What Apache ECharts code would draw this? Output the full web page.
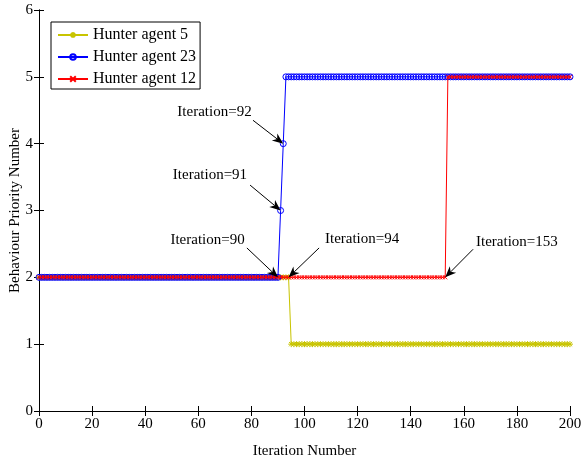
<!DOCTYPE html>
<html>
<head>
<meta charset="utf-8">
<script src="https://cdn.jsdelivr.net/npm/echarts@6/dist/echarts.min.js"></script>
<style>
  html, body { margin: 0; padding: 0; background: #fff; }
  #chart { width: 582px; height: 458px; }
</style>
</head>
<body>
<div id="chart"></div>
<script>
// Behaviour priority of three hunter agents over 200 iterations (index = iteration)
const seriesNames = ['Hunter agent 5', 'Hunter agent 23', 'Hunter agent 12'];

const agent5 = [
  2,2,2,2,2,2,2,2,2,2,2,2,2,2,2,2,2,2,2,2,
  2,2,2,2,2,2,2,2,2,2,2,2,2,2,2,2,2,2,2,2,
  2,2,2,2,2,2,2,2,2,2,2,2,2,2,2,2,2,2,2,2,
  2,2,2,2,2,2,2,2,2,2,2,2,2,2,2,2,2,2,2,2,
  2,2,2,2,2,2,2,2,2,2,2,2,2,2,2,1,1,1,1,1,
  1,1,1,1,1,1,1,1,1,1,1,1,1,1,1,1,1,1,1,1,
  1,1,1,1,1,1,1,1,1,1,1,1,1,1,1,1,1,1,1,1,
  1,1,1,1,1,1,1,1,1,1,1,1,1,1,1,1,1,1,1,1,
  1,1,1,1,1,1,1,1,1,1,1,1,1,1,1,1,1,1,1,1,
  1,1,1,1,1,1,1,1,1,1,1,1,1,1,1,1,1,1,1,1,
  1
];

const agent23 = [
  2,2,2,2,2,2,2,2,2,2,2,2,2,2,2,2,2,2,2,2,
  2,2,2,2,2,2,2,2,2,2,2,2,2,2,2,2,2,2,2,2,
  2,2,2,2,2,2,2,2,2,2,2,2,2,2,2,2,2,2,2,2,
  2,2,2,2,2,2,2,2,2,2,2,2,2,2,2,2,2,2,2,2,
  2,2,2,2,2,2,2,2,2,2,2,3,4,5,5,5,5,5,5,5,
  5,5,5,5,5,5,5,5,5,5,5,5,5,5,5,5,5,5,5,5,
  5,5,5,5,5,5,5,5,5,5,5,5,5,5,5,5,5,5,5,5,
  5,5,5,5,5,5,5,5,5,5,5,5,5,5,5,5,5,5,5,5,
  5,5,5,5,5,5,5,5,5,5,5,5,5,5,5,5,5,5,5,5,
  5,5,5,5,5,5,5,5,5,5,5,5,5,5,5,5,5,5,5,5,
  5
];

const agent12 = [
  2,2,2,2,2,2,2,2,2,2,2,2,2,2,2,2,2,2,2,2,
  2,2,2,2,2,2,2,2,2,2,2,2,2,2,2,2,2,2,2,2,
  2,2,2,2,2,2,2,2,2,2,2,2,2,2,2,2,2,2,2,2,
  2,2,2,2,2,2,2,2,2,2,2,2,2,2,2,2,2,2,2,2,
  2,2,2,2,2,2,2,2,2,2,2,2,2,2,2,2,2,2,2,2,
  2,2,2,2,2,2,2,2,2,2,2,2,2,2,2,2,2,2,2,2,
  2,2,2,2,2,2,2,2,2,2,2,2,2,2,2,2,2,2,2,2,
  2,2,2,2,2,2,2,2,2,2,2,2,2,2,5,5,5,5,5,5,
  5,5,5,5,5,5,5,5,5,5,5,5,5,5,5,5,5,5,5,5,
  5,5,5,5,5,5,5,5,5,5,5,5,5,5,5,5,5,5,5,5,
  5
];

// Annotated switching points (label, target point, text anchor, arrow tail) in data units
const annLabels  = ['Iteration=90', 'Iteration=91', 'Iteration=92', 'Iteration=94', 'Iteration=153'];
const annTargetX = [90, 91, 92, 94, 153];
const annTargetY = [2, 3, 4, 2, 2];
const annTextX   = [63.5, 64.4, 66.1, 121.7, 180.0];
const annTextY   = [2.56, 3.53, 4.47, 2.57, 2.53];
const annTailX   = [78.3, 79.5, 80.6, 105.5, 163.5];
const annTailY   = [2.44, 3.38, 4.35, 2.44, 2.42];

const FONT = '"Liberation Serif", "Times New Roman", serif';
const C_YEL = '#c8c400', C_BLUE = '#0000ff', C_RED = '#ff0000';

const asteriskPath = 'path://M0,-5L0,5M-5,0L5,0M-3.6,-3.6L3.6,3.6M-3.6,3.6L3.6,-3.6';
const crossPath = 'path://M-5,-5L5,5M-5,5L5,-5';

const toXY = arr => arr.map((v, i) => [i, v]);

const chart = echarts.init(document.getElementById('chart'), null, { renderer: 'canvas' });

function axisCommon(showLabel) {
  return {
    axisLine: { show: true, lineStyle: { color: '#000', width: 1 } },
    axisTick: { show: true, inside: true, length: 5, lineStyle: { color: '#000' } },
    splitLine: { show: false },
    axisLabel: { show: showLabel, color: '#000', fontFamily: FONT, fontSize: 15, margin: 6 }
  };
}

const option = {
  animation: false,
  backgroundColor: '#fff',
  grid: { left: 39, right: 12, top: 10, bottom: 47, containLabel: false, outerBoundsMode: 'none' },
  xAxis: [
    Object.assign(axisCommon(true), {
      type: 'value', min: 0, max: 200, interval: 20, position: 'bottom',
      name: 'Iteration Number', nameLocation: 'middle', nameGap: 33, nameMoveOverlap: false,
      nameTextStyle: { color: '#000', fontFamily: FONT, fontSize: 15 }
    }),
    Object.assign(axisCommon(false), {
      type: 'value', min: 0, max: 200, interval: 20, position: 'top'
    })
  ],
  yAxis: [
    Object.assign(axisCommon(true), {
      type: 'value', min: 0, max: 6, interval: 1, position: 'left',
      name: 'Behaviour Priority Number', nameLocation: 'middle', nameGap: 16, nameMoveOverlap: false,
      nameTextStyle: { color: '#000', fontFamily: FONT, fontSize: 15 }
    }),
    Object.assign(axisCommon(false), {
      type: 'value', min: 0, max: 6, interval: 1, position: 'right'
    })
  ],
  legend: {
    data: seriesNames,
    orient: 'vertical',
    left: 51, top: 22,
    backgroundColor: '#fff',
    borderColor: '#000', borderWidth: 1, borderRadius: 0,
    padding: [5, 4, 2, 6],
    itemWidth: 30, itemHeight: 7, itemGap: 6,
    textStyle: { color: '#000', fontFamily: FONT, fontSize: 16, lineHeight: 15 }
  },
  series: [
    {
      name: seriesNames[0], type: 'line', data: toXY(agent5),
      symbol: asteriskPath, symbolSize: 6, showAllSymbol: true,
      lineStyle: { color: C_YEL, width: 1 },
      itemStyle: { color: C_YEL, borderColor: C_YEL, borderWidth: 1 },
      z: 2
    },
    {
      name: seriesNames[1], type: 'line', data: toXY(agent23),
      symbol: 'circle', symbolSize: 6, showAllSymbol: true,
      lineStyle: { color: C_BLUE, width: 1 },
      itemStyle: { color: 'rgba(0,0,0,0)', borderColor: C_BLUE, borderWidth: 1 },
      z: 3
    },
    {
      name: seriesNames[2], type: 'line', data: toXY(agent12),
      symbol: crossPath, symbolSize: 4, showAllSymbol: true,
      lineStyle: { color: C_RED, width: 1 },
      itemStyle: { color: C_RED, borderColor: C_RED, borderWidth: 1 },
      z: 4
    },
    {
      // Text labels with arrows pointing at the switching iterations
      type: 'custom', name: 'annotations', clip: false, z: 10, silent: true,
      data: annLabels.map((t, i) => [annTextX[i], annTextY[i], annTailX[i], annTailY[i], annTargetX[i], annTargetY[i]]),
      renderItem: function (params, api) {
        const t = api.coord([api.value(0), api.value(1)]);
        const s = api.coord([api.value(2), api.value(3)]);
        const h = api.coord([api.value(4), api.value(5)]);
        const dx = h[0] - s[0], dy = h[1] - s[1];
        const len = Math.sqrt(dx * dx + dy * dy);
        const ux = dx / len, uy = dy / len;
        const px = -uy, py = ux;
        const L = 11, W = 4.5;
        const bx = h[0] - ux * L, by = h[1] - uy * L;
        const nx = h[0] - ux * L * 0.7, ny = h[1] - uy * L * 0.7;
        return {
          type: 'group',
          children: [
            { type: 'line', shape: { x1: s[0], y1: s[1], x2: nx, y2: ny },
              style: { stroke: '#000', lineWidth: 1 } },
            { type: 'polygon', shape: { points: [[h[0], h[1]], [bx + px * W, by + py * W], [nx, ny], [bx - px * W, by - py * W]] },
              style: { fill: '#000' } },
            { type: 'text', x: t[0], y: t[1],
              style: { text: annLabels[params.dataIndex], fill: '#000', font: '15px ' + FONT,
                       align: 'center', verticalAlign: 'middle' } }
          ]
        };
      }
    }
  ]
};

chart.setOption(option);
</script>
</body>
</html>
